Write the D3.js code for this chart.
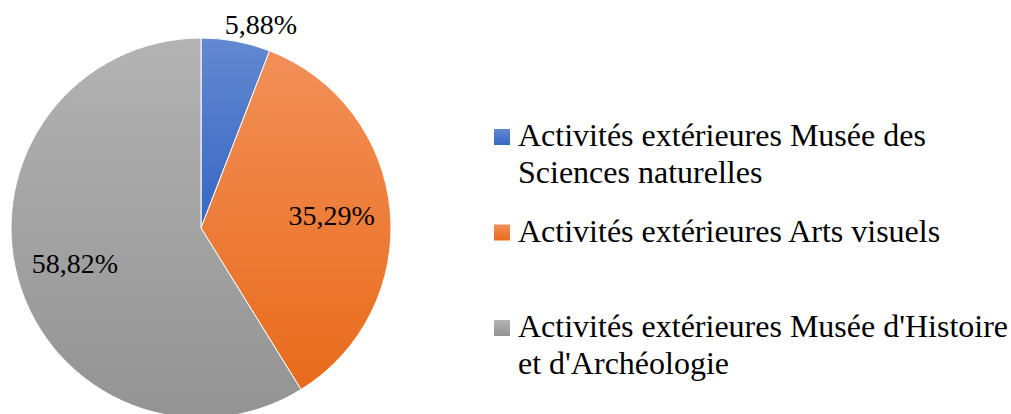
<!DOCTYPE html>
<html>
<head>
<meta charset="utf-8">
<script src="https://cdn.jsdelivr.net/npm/d3@7"></script>
<style>
    body { margin: 0; background: #fff; }
    svg { display: block; }
    text { font-family: "Liberation Serif", "Times New Roman", serif; fill: #000; }
</style>
</head>
<body>
<svg></svg>
<script>
var categories = [
    "Activités extérieures Musée des Sciences naturelles",
    "Activités extérieures Arts visuels",
    "Activités extérieures Musée d'Histoire et d'Archéologie"
];
var values = [5.88, 35.29, 58.82];
var labels = ["5,88%", "35,29%", "58,82%"];

// couleurs haut / bas du dégradé
var coulHaut = ["#6288d0", "#f28f58", "#b3b3b3"];
var coulBas = ["#3767c4", "#e96b1b", "#939393"];

var width = 1011, height = 414;
var svg = d3.select("svg").attr("width", width).attr("height", height);

var cx = 201, cy = 228, rayon = 190;
var taillePie = 28, tailleLeg = 32;

var defs = svg.append("defs");
categories.forEach(function (c, i) {
    var g = defs.append("linearGradient")
        .attr("id", "grad" + i)
        .attr("x1", 0).attr("y1", 0).attr("x2", 0).attr("y2", 1);
    g.append("stop").attr("offset", "0%").attr("stop-color", coulHaut[i]);
    g.append("stop").attr("offset", "100%").attr("stop-color", coulBas[i]);
});

var pie = d3.pie().sort(null).value(function (d) { return d; });
var arcs = pie(values);

var arc = d3.arc().innerRadius(0).outerRadius(rayon);
var arcLabel = d3.arc().innerRadius(rayon * 0.69).outerRadius(rayon * 0.69);
var arcExt = d3.arc().innerRadius(rayon + 22).outerRadius(rayon + 22);

var gPie = svg.append("g").attr("transform", "translate(" + cx + "," + cy + ")");

gPie.selectAll("path")
    .data(arcs)
    .enter().append("path")
    .attr("d", arc)
    .attr("fill", function (d, i) { return "url(#grad" + i + ")"; })
    .attr("stroke", "#fff")
    .attr("stroke-width", 1);

gPie.selectAll("text")
    .data(arcs)
    .enter().append("text")
    .attr("transform", function (d) {
        var p;
        if (d.endAngle - d.startAngle < 0.5) {
            // petite part: étiquette à l'extérieur
            p = arcExt.centroid(d);
            p[0] += 21;
            p[1] += 5;
        } else {
            p = arcLabel.centroid(d);
        }
        return "translate(" + p[0] + "," + p[1] + ")";
    })
    .attr("text-anchor", "middle")
    .attr("dy", "0.33em")
    .style("font-size", taillePie + "px")
    .text(function (d, i) { return labels[i]; });

// légende
var legX = 494, legTexteX = 518, legLargeur = 492, interligne = 37, carre = 16;
var yLeg = d3.scalePoint().domain(categories).range([146, 337]);

var gLeg = svg.append("g");
categories.forEach(function (c, i) {
    var y0 = yLeg(c);
    gLeg.append("rect")
        .attr("x", legX)
        .attr("y", y0 - carre - 1)
        .attr("width", carre)
        .attr("height", carre)
        .attr("fill", "url(#grad" + i + ")");

    var t = gLeg.append("text")
        .attr("x", legTexteX)
        .attr("y", y0)
        .style("font-size", tailleLeg + "px");

    // découpe du texte en lignes
    var mots = c.split(" ");
    var ligne = [];
    var ts = t.append("tspan").attr("x", legTexteX).attr("y", y0);
    var n = 0;
    mots.forEach(function (m) {
        ligne.push(m);
        ts.text(ligne.join(" "));
        if (ts.node().getComputedTextLength() > legLargeur && ligne.length > 1) {
            ligne.pop();
            ts.text(ligne.join(" "));
            ligne = [m];
            n++;
            ts = t.append("tspan").attr("x", legTexteX).attr("y", y0 + n * interligne).text(m);
        }
    });
});
</script>
</body>
</html>
